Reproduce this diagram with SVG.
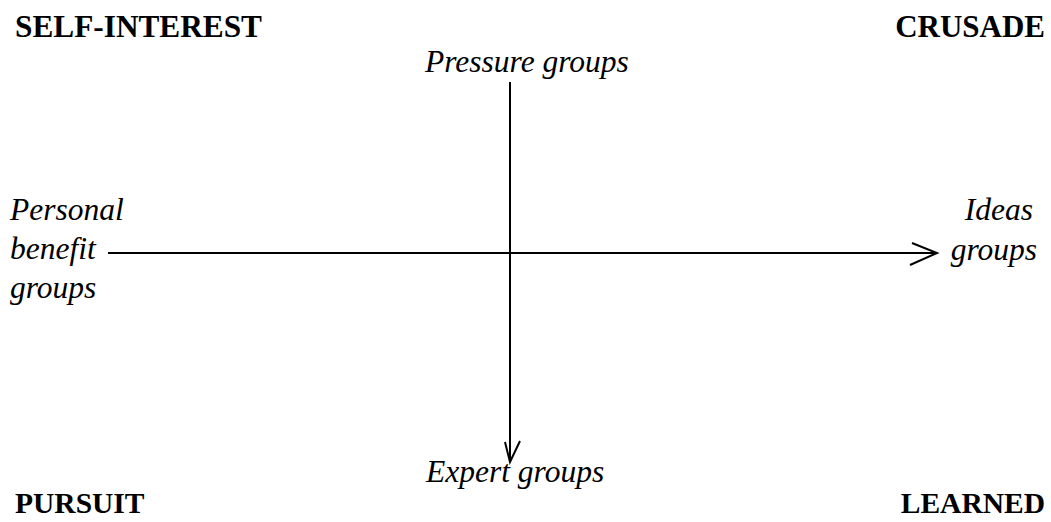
<svg xmlns="http://www.w3.org/2000/svg" width="1051" height="522" viewBox="0 0 1051 522">
<style>
.hd{font-family:"Liberation Serif","Times New Roman",serif;font-weight:bold;font-size:31px;fill:#000}
.hs{font-size:29.5px}
.it{font-family:"Liberation Serif","Times New Roman",serif;font-style:italic;font-size:31.5px;fill:#000}
.ax{stroke:#000;stroke-width:2;fill:none}
</style>
<rect width="1051" height="522" fill="#fff"/>
<g id="corner-self-interest"><text class="hd" x="15" y="37" textLength="247" lengthAdjust="spacingAndGlyphs">SELF-INTEREST</text></g>
<g id="corner-crusade"><text class="hd" x="1045" y="37" text-anchor="end">CRUSADE</text></g>
<g id="corner-pursuit"><text class="hd hs" x="15" y="513">PURSUIT</text></g>
<g id="corner-learned"><text class="hd hs" x="1045" y="513" text-anchor="end">LEARNED</text></g>
<g id="node-pressure"><text class="it" x="425" y="72">Pressure groups</text></g>
<g id="node-expert"><text class="it" x="426" y="482">Expert groups</text></g>
<g id="node-personal"><text class="it" x="10" y="220">Personal</text><text class="it" x="10" y="259">benefit</text><text class="it" x="10" y="298">groups</text></g>
<g id="node-ideas"><text class="it" x="1033" y="220" text-anchor="end">Ideas</text><text class="it" x="1037" y="260" text-anchor="end">groups</text></g>
<g id="connectors">
<line class="ax" x1="510" y1="82" x2="510" y2="461"/>
<polyline class="ax" points="505,442 510,462 520,441"/>
<line class="ax" x1="108" y1="253" x2="936" y2="253"/>
<polyline class="ax" points="912,243 937,253 910,265"/>
</g>
</svg>
